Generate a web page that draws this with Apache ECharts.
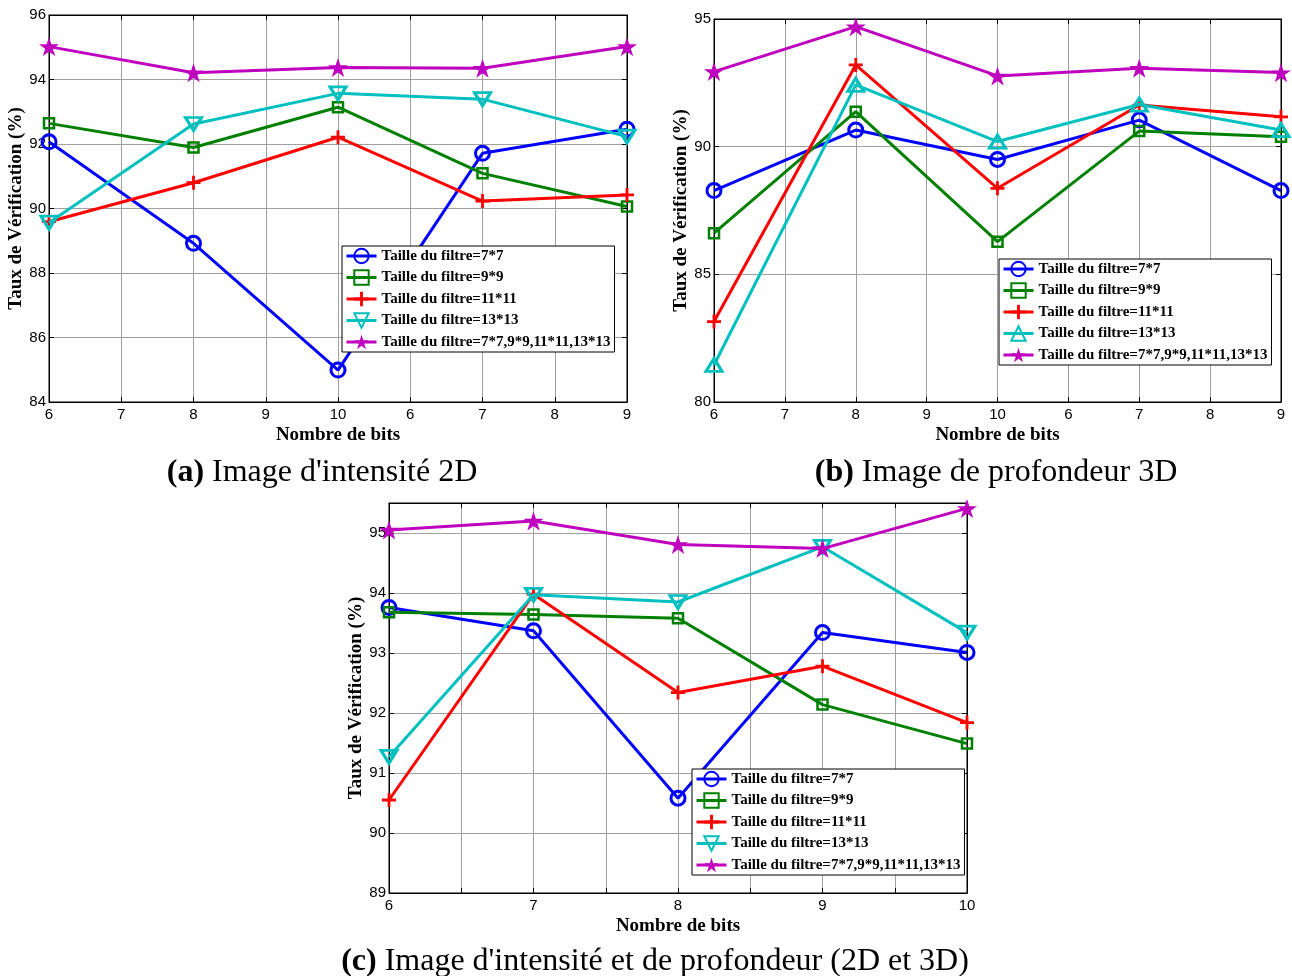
<!DOCTYPE html>
<html><head><meta charset="utf-8">
<script src="https://cdn.jsdelivr.net/npm/echarts@6/dist/echarts.min.js"></script>
<style>html,body{margin:0;padding:0;background:#fff}#c{width:1292px;height:976px}</style>
</head><body><div id="c"></div>
<script>
// ---- data ----
const tickLabelsAB = ['6','7','8','9','10','6','7','8','9'];
const xPosAB = [0, 2, 4, 6, 8];           // positions of the 5 bit settings on panels (a) and (b)
const xValsC = [6, 7, 8, 9, 10];          // nombre de bits, panel (c)
const seriesNames = ['Taille du filtre=7*7','Taille du filtre=9*9','Taille du filtre=11*11','Taille du filtre=13*13','Taille du filtre=7*7,9*9,11*11,13*13'];

const a77   = [92.07, 88.92, 84.99, 91.71, 92.46];
const a99   = [92.64, 91.89, 93.14, 91.09, 90.06];
const a1111 = [89.59, 90.80, 92.21, 90.23, 90.42];
const a1313 = [89.56, 92.62, 93.57, 93.39, 92.23];
const aAll  = [95.02, 94.21, 94.37, 94.35, 95.02];

const b77   = [88.28, 90.65, 89.50, 91.04, 88.28];
const b99   = [86.61, 91.37, 86.28, 90.61, 90.39];
const b1111 = [83.15, 93.20, 88.37, 91.63, 91.17];
const b1313 = [81.45, 92.42, 90.20, 91.65, 90.65];
const bAll  = [92.94, 94.70, 92.77, 93.07, 92.90];

const c77   = [93.76, 93.37, 90.58, 93.34, 93.01];
const c99   = [93.68, 93.64, 93.58, 92.14, 91.49];
const c1111 = [90.55, 93.98, 92.34, 92.78, 91.84];
const c1313 = [91.27, 93.97, 93.85, 94.77, 93.34];
const cAll  = [95.05, 95.20, 94.81, 94.74, 95.41];

// ---- styles ----
const colors = ['#0000ff', '#008000', '#ff0000', '#00bfbf', '#bf00bf'];
const plusPath = 'path://M4,0H6V4H10V6H6V10H4V6H0V4H4Z';
const starPath = 'path://M50,0L61.23,34.55L97.55,34.55L68.17,55.9L79.39,90.45L50,69.1L20.61,90.45L31.83,55.9L2.45,34.55L38.77,34.55Z';
const serifBold = {fontFamily: 'Liberation Serif', fontWeight: 'bold', color: '#000'};

function markerStyle(i, triUp) {
  const c = colors[i];
  const hollow = {color: 'rgba(255,255,255,0)', borderColor: c};
  if (i === 0) return {symbol: 'circle', symbolSize: 14, itemStyle: Object.assign({borderWidth: 3}, hollow)};
  if (i === 1) return {symbol: 'rect', symbolSize: 10, itemStyle: Object.assign({borderWidth: 2.5}, hollow)};
  if (i === 2) return {symbol: plusPath, symbolSize: 14, itemStyle: {color: c, borderWidth: 0}};
  if (i === 3) return {symbol: 'triangle', symbolSize: [16, 13], symbolRotate: triUp ? 0 : 180, itemStyle: Object.assign({borderWidth: 3}, hollow)};
  return {symbol: starPath, symbolSize: 20, symbolKeepAspect: true, itemStyle: {color: c, borderWidth: 0}};
}

function makeSeries(panel, idx, xs, ys, triUp, suffix) {
  return Object.assign({
    type: 'line',
    name: seriesNames[idx] + suffix,
    xAxisIndex: panel, yAxisIndex: panel,
    data: xs.map((x, k) => [x, ys[k]]),
    lineStyle: {color: colors[idx], width: 3},
    showAllSymbol: true,
    animation: false,
    z: 2 + idx * 0.01
  }, markerStyle(idx, triUp));
}

const series = [];
[a77, a99, a1111, a1313, aAll].forEach((ys, i) => series.push(makeSeries(0, i, xPosAB, ys, false, '')));
[b77, b99, b1111, b1313, bAll].forEach((ys, i) => series.push(makeSeries(1, i, xPosAB, ys, true, ' ')));
[c77, c99, c1111, c1313, cAll].forEach((ys, i) => series.push(makeSeries(2, i, xValsC, ys, false, '  ')));

const grids = [
  {left: 49, top: 15, width: 578, height: 387},
  {left: 714, top: 19, width: 567, height: 383},
  {left: 389, top: 503, width: 578, height: 390}
].map(g => Object.assign({show: true, borderColor: '#000', borderWidth: 1, backgroundColor: '#fff', containLabel: false}, g));

const tickLbl = {fontFamily: 'Liberation Sans', fontSize: 15, color: '#000'};
const splitL = {show: true, lineStyle: {color: '#a0a0a0', width: 1}};
const axLine = {show: true, onZero: false, lineStyle: {color: '#000', width: 1}};
const axTick = {show: true, inside: true, length: 5, lineStyle: {color: '#000'}};

function xMain(gi, min, max, interval, fmt) {
  return {type: 'value', gridIndex: gi, min, max, interval, position: 'bottom',
    axisLine: axLine, axisTick: axTick, splitLine: splitL,
    axisLabel: Object.assign({margin: 5, formatter: fmt, showMinLabel: true, showMaxLabel: true}, tickLbl),
    name: 'Nombre de bits', nameLocation: 'middle', nameGap: 24,
    nameTextStyle: Object.assign({fontSize: 19}, serifBold)};
}
function yMain(gi, min, max, interval, showMax) {
  return {type: 'value', gridIndex: gi, min, max, interval, position: 'left',
    axisLine: axLine, axisTick: axTick, splitLine: splitL,
    axisLabel: Object.assign({margin: 3, showMaxLabel: showMax}, tickLbl),
    name: 'Taux de Vérification (%)', nameLocation: 'middle', nameRotate: 90, nameGap: 23,
    nameTextStyle: Object.assign({fontSize: 19}, serifBold)};
}
function xBox(gi, min, max, interval) {
  return {type: 'value', gridIndex: gi, min, max, interval, position: 'top',
    axisLine: axLine, axisTick: axTick, splitLine: {show: false}, axisLabel: {show: false}};
}
function yBox(gi, min, max, interval) {
  return {type: 'value', gridIndex: gi, min, max, interval, position: 'right',
    axisLine: axLine, axisTick: axTick, splitLine: {show: false}, axisLabel: {show: false}};
}

const fmtAB = v => tickLabelsAB[Math.round(v)] || '';
const fmtC = v => (Math.abs(v - Math.round(v)) < 1e-9 ? String(Math.round(v)) : '');

function legend(left, top, suffix) {
  return {
    orient: 'vertical', left, top,
    data: seriesNames.map(n => n + suffix),
    formatter: n => n.trim(),
    itemWidth: 30, itemHeight: 18, itemGap: 3.5,
    padding: [1, 4, 1, 3],
    backgroundColor: '#fff', borderColor: '#000', borderWidth: 1,
    lineStyle: {width: 3},
    textStyle: Object.assign({fontSize: 15, lineHeight: 18}, serifBold),
    selectedMode: false
  };
}

const capStyle = {fontFamily: 'Liberation Serif', fontSize: 32, fontWeight: 'normal', color: '#000',
  rich: {b: {fontFamily: 'Liberation Serif', fontSize: 32, fontWeight: 'bold', color: '#000'}}};

const option = {
  backgroundColor: '#fff',
  animation: false,
  title: [
    {text: "{b|(a)} Image d'intensité 2D", left: 322, top: 457, textAlign: 'center', padding: 0, textStyle: capStyle},
    {text: "{b|(b)} Image de profondeur 3D", left: 996, top: 457, textAlign: 'center', padding: 0, textStyle: capStyle},
    {text: "{b|(c)} Image d'intensité et de profondeur (2D et 3D)", left: 655, top: 946, textAlign: 'center', padding: 0, textStyle: capStyle}
  ],
  grid: grids,
  xAxis: [
    xMain(0, 0, 8, 1, fmtAB), xMain(1, 0, 8, 1, fmtAB), xMain(2, 6, 10, 0.5, fmtC),
    xBox(0, 0, 8, 1), xBox(1, 0, 8, 1), xBox(2, 6, 10, 0.5)
  ],
  yAxis: [
    yMain(0, 84, 96, 2, true), yMain(1, 80, 95, 5, true), yMain(2, 89, 95.5, 1, false),
    yBox(0, 84, 96, 2), yBox(1, 80, 95, 5), yBox(2, 89, 95.5, 1)
  ],
  legend: [legend(342, 246, ''), legend(999, 259, ' '), legend(692, 769, '  ')],
  series
};

const chart = echarts.init(document.getElementById('c'), null, {renderer: 'canvas'});
chart.setOption(option);
</script>
</body></html>
